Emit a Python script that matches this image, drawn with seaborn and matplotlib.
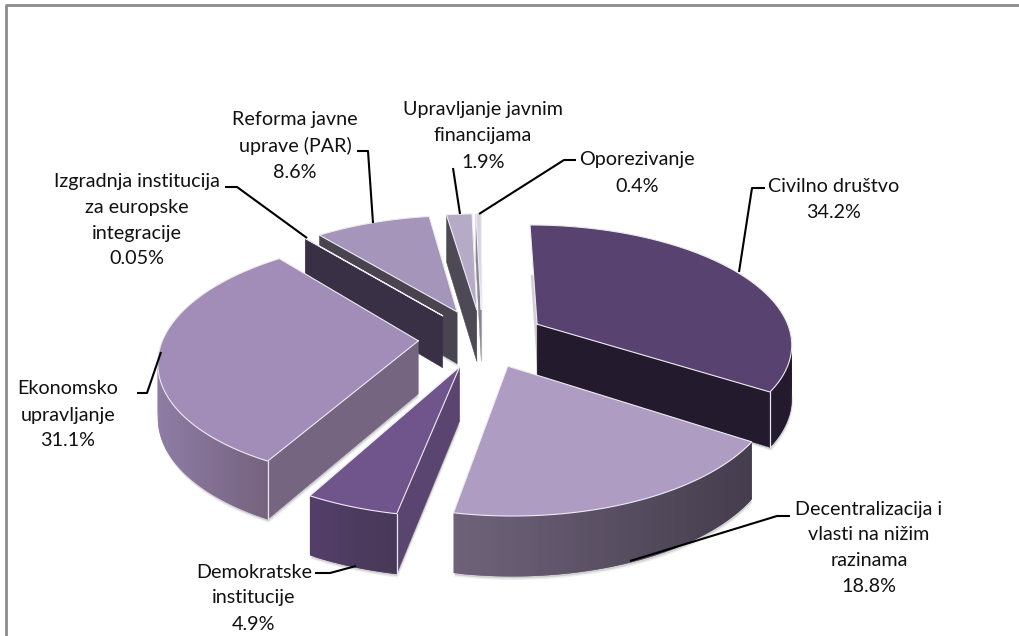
import numpy as np
import matplotlib
matplotlib.use("Agg")
import matplotlib.pyplot as plt
import seaborn as sns

# datos de la tarta
categorias = ["Civilno društvo", "Decentralizacija i\nvlasti na nižim\nrazinama", "Demokratske\ninstitucije",
              "Ekonomsko\nupravljanje", "Izgradnja institucija\nza europske\nintegracije",
              "Reforma javne\nuprave (PAR)", "Upravljanje javnim\nfinancijama", "Oporezivanje"]
valores = [34.2, 18.8, 4.9, 31.1, 0.05, 8.6, 1.9, 0.4]
etiquetas_valor = ["34.2%", "18.8%", "4.9%", "31.1%", "0.05%", "8.6%", "1.9%", "0.4%"]

# colores: cara superior, pared recta, pared curva izq/der
c_top = ["#584370", "#af9cc3", "#70548c", "#a28cb8", "#c4b6d2", "#a595ba", "#b5abc6", "#d8d3e2"]
c_rad = ["#231a2e", "#4a4252", "#59456f", "#756581", "#3a3045", "#4a4450", "#4d4a55", "#8a8790"]
c_izq = ["#231a2e", "#6e6279", "#533e69", "#8f7ca5", "#3a3045", "#4a4450", "#4d4a55", "#8a8790"]
c_der = ["#231a2e", "#453d4d", "#483857", "#75637f", "#3a3045", "#4a4450", "#4d4a55", "#8a8790"]

# colocacion de textos (centro x, y primera linea) y lineas guia
pos_texto = [(834, 186), (869, 509), (254, 572), (68, 389), (137, 181), (295, 120), (483, 110), (637, 160)]
guias = [[(765, 188), (752, 188), (739, 272)],
         [(790, 516), (777, 516), (630, 561)],
         [(315, 573), (330, 573), (356, 566)],
         [(137, 393), (147, 393), (161, 352)],
         [(225, 187), (237, 187), (307, 238)],
         [(357, 151), (368, 151), (373, 223)],
         [(453, 168), (460, 214)],
         [(576, 160), (564, 160), (479, 214)]]

CX, CY = 482, 338
EXPLOSION = 0.25
ALTO = 53


def proyectar(x, y):
    # perspectiva sencilla: lo de delante se ve mas grande
    return CX + 255 * x / (1 + 0.15 * y), CY - 118 * y / (1 + 0.15 * y)


def pared(x, y):
    return ALTO / (1 + 0.1 * y)


sns.set_theme(style="white")
plt.rcParams["font.family"] = ["Lato", "DejaVu Sans"]

fig = plt.figure(figsize=(10.2, 6.36), dpi=100)
ax = fig.add_axes([0, 0, 1, 1])
ax.set_xlim(0, 1020)
ax.set_ylim(636, 0)
ax.axis("off")

# marco gris, solo arriba y a la izquierda
ax.plot([6, 6, 1020], [636, 5, 5], color="#8c8c8c", lw=2)

total = sum(valores)
angulos = 90 - np.cumsum([0] + valores) / total * 360

# de atras hacia delante
medios = (angulos[:-1] + angulos[1:]) / 2
orden = sorted(range(len(valores)), key=lambda i: -np.sin(np.radians(medios[i])))

for k, i in enumerate(orden):
    z = 10 + k * 5
    t1, t2 = np.radians(angulos[i]), np.radians(angulos[i + 1])
    ox = EXPLOSION * np.cos(np.radians(medios[i]))
    oy = EXPLOSION * np.sin(np.radians(medios[i]))
    t = np.linspace(t1, t2, max(int(abs(t1 - t2) * 60), 2))
    rx, ry = ox + np.cos(t), oy + np.sin(t)
    px, py = proyectar(rx, ry)
    ax0, ay0 = proyectar(ox, oy)
    h = pared(rx, ry)
    h0 = pared(ox, oy)

    # sombra debajo de la porcion
    sx = np.r_[ax0, px]
    sy = np.r_[ay0 + h0, py + h]
    for d, a in [(3.5, 0.12), (2, 0.25)]:
        ax.fill(sx + d * 0.3, sy + d, color="#777777", alpha=a, lw=0, zorder=z)

    # paredes rectas visibles
    for visible, j in [(np.cos(t1) < -1e-6, 0), (np.cos(t2) > 1e-6, -1)]:
        if visible:
            ax.fill([ax0, px[j], px[j], ax0], [ay0, py[j], py[j] + h[j], ay0 + h0],
                    color=c_rad[i], lw=0.3, zorder=z + 1)

    # pared curva con degradado, solo la parte de delante
    frente = np.where(np.sin((t[:-1] + t[1:]) / 2) < 0.03)[0]
    if len(frente) > 0:
        pal = sns.blend_palette([c_izq[i], c_der[i]], 64)
        xmin, xmax = px[frente].min(), px[frente].max()
        # se ordena de izq a der para que cada trozo tape la junta del anterior
        for n in sorted(frente, key=lambda m: px[m]):
            f = (px[n] - xmin) / max(xmax - xmin, 1)
            col = pal[int(np.clip(f, 0, 1) * 63)]
            a = n
            b = n + 1
            if px[b] < px[a]:
                a, b = b, a
            # solapar un poco hacia la derecha
            c = min(max(a, b) + 1, len(px) - 1) if b > a else max(min(a, b) - 1, 0)
            ax.fill([px[a], px[b], px[c], px[c], px[b], px[a]],
                    [py[a], py[b], py[c], py[c] + h[c], py[b] + h[b], py[a] + h[a]],
                    color=col, lw=0, zorder=z + 2)

    # esquinas blancas
    for th, visible, j in [(t1, np.cos(t1) < -1e-6, 0), (t2, np.cos(t2) > 1e-6, -1)]:
        if visible and np.sin(th) < 0:
            ax.plot([px[j], px[j]], [py[j], py[j] + h[j]], color="#e8e4ee", lw=0.9, zorder=z + 3)

    # cara superior
    ax.fill(np.r_[ax0, px], np.r_[ay0, py], color=c_top[i], lw=0, zorder=z + 3)
    ax.plot(np.r_[ax0, px, ax0], np.r_[ay0, py, ay0], color="#eeeaf3", lw=0.8, zorder=z + 4)

# lineas guia y textos
for g in guias:
    ax.plot([p[0] for p in g], [p[1] for p in g], color="black", lw=1.5, zorder=60, solid_capstyle="butt")

for nombre, valor, (x, y) in zip(categorias, etiquetas_valor, pos_texto):
    lineas = nombre.split("\n") + [valor]
    for n, linea in enumerate(lineas):
        ax.text(x, y + n * 26, linea, ha="center", va="center", fontsize=14.2, color="#111111", zorder=70)

plt.savefig("out.png", dpi=100)
